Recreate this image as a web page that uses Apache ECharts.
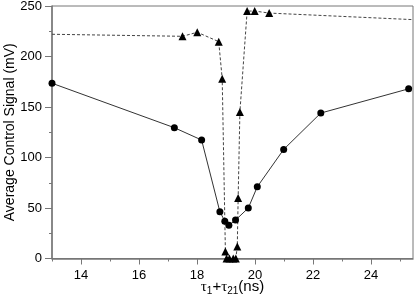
<!DOCTYPE html>
<html>
<head>
<meta charset="utf-8">
<script src="https://cdn.jsdelivr.net/npm/echarts@6/dist/echarts.min.js"></script>
<style>
html,body{margin:0;padding:0;background:#fff;}
#c{width:415px;height:302px;}
</style>
</head>
<body>
<div id="c"></div>
<script>
// Solid series (circles)
var circleX = [13.0, 17.22, 18.16, 18.79, 18.96, 19.10, 19.33, 19.77, 20.08, 20.99, 22.27, 25.30];
var circleY = [173.5, 129.5, 117.3, 46.3, 37, 33, 38, 50, 71, 108, 144, 168];
// Dashed series (triangles); first and last points are line continuations to the frame edges
var triX = [13.0, 17.50, 18.01, 18.75, 18.87, 18.98, 19.02, 19.12, 19.25, 19.34, 19.39, 19.42, 19.48, 19.73, 19.99, 20.49, 25.45];
var triY = [222, 220, 224, 214.7, 178, 7, 0, 0, 0, 0, 12, 60, 145, 245, 245, 243, 236.5];
var xMajorTicks = [14, 16, 18, 20, 22, 24];
var xMinorTicks = [13, 15, 17, 19, 21, 23, 25];

var FONT = 'Liberation Sans, Arial, sans-serif';
var AX = '#777777';

var circleData = circleX.map(function (x, i) { return [x, circleY[i]]; });
var triData = triX.map(function (x, i) {
  var item = { value: [x, triY[i]] };
  if (i === 0 || i === triX.length - 1) item.symbol = 'none';
  return item;
});

var chart = echarts.init(document.getElementById('c'), null, { renderer: 'canvas' });
chart.setOption({
  animation: false,
  backgroundColor: '#fff',
  grid: { left: 52, right: 2, top: 6, bottom: 43.5, containLabel: false, outerBoundsMode: 'none',
          show: true, borderColor: AX, borderWidth: 1, backgroundColor: 'transparent' },
  xAxis: [{
    type: 'value', min: 13, max: 25.45,
    axisLine: { show: true, onZero: false, lineStyle: { color: AX, width: 1.5 } },
    axisTick: { show: true, length: 6, customValues: xMajorTicks, lineStyle: { color: AX, width: 1 } },
    axisLabel: { customValues: xMajorTicks, color: '#000', fontSize: 13, fontFamily: FONT, margin: 10 },
    splitLine: { show: false },
    name: '{t|τ}{s|1}{p|+}{t|τ}{s|21}{p|(ns)}',
    nameLocation: 'middle', nameGap: 19, nameMoveOverlap: false,
    nameTextStyle: {
      rich: {
        t: { fontSize: 15, fontFamily: 'Liberation Serif, serif', color: '#000' },
        p: { fontSize: 15, fontFamily: FONT, color: '#000' },
        s: { fontSize: 10, fontFamily: FONT, color: '#000', padding: [9, 0, 0, 0] }
      }
    }
  }, {
    type: 'value', min: 13, max: 25.45, position: 'bottom',
    axisLine: { show: false, onZero: false },
    axisTick: { show: true, length: 3, customValues: xMinorTicks, lineStyle: { color: AX, width: 1 } },
    axisLabel: { show: false },
    splitLine: { show: false }
  }],
  yAxis: {
    type: 'value', min: 0, max: 250, interval: 50,
    axisLine: { show: true, lineStyle: { color: AX, width: 1.5 } },
    axisTick: { show: true, length: 7, lineStyle: { color: AX } },
    minorTick: { show: true, splitNumber: 2, length: 3, lineStyle: { color: AX } },
    axisLabel: { color: '#000', fontSize: 13, fontFamily: FONT, margin: 10 },
    splitLine: { show: false },
    name: 'Average Control Signal (mV)',
    nameLocation: 'middle', nameGap: 35, nameMoveOverlap: false,
    nameTextStyle: { fontSize: 14, fontFamily: FONT, color: '#000' }
  },
  series: [{
    type: 'line', data: circleData, xAxisIndex: 0,
    symbol: 'circle', symbolSize: 7,
    itemStyle: { color: '#000' },
    lineStyle: { color: '#333', width: 1 },
    clip: false
  }, {
    type: 'line', data: triData, xAxisIndex: 0,
    symbol: 'triangle', symbolSize: 8,
    itemStyle: { color: '#000' },
    lineStyle: { color: '#444', width: 1, type: [3, 2] },
    clip: false
  }]
});
</script>
</body>
</html>
